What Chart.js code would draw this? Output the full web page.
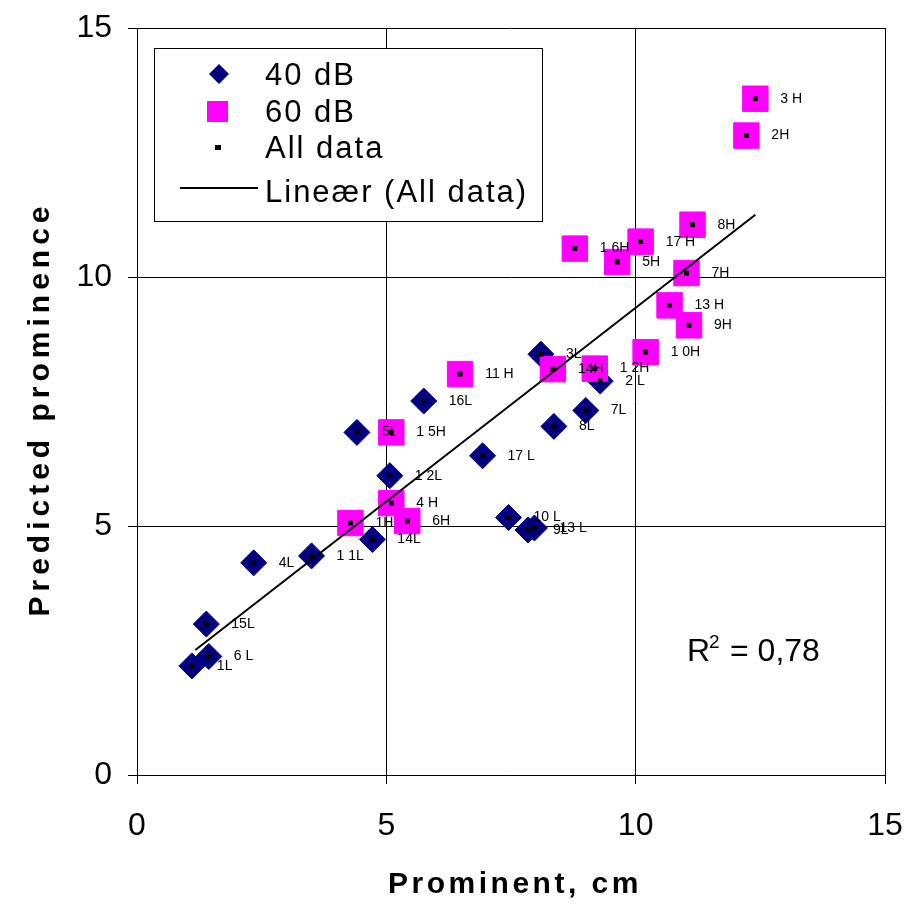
<!DOCTYPE html>
<html>
<head>
<meta charset="utf-8">
<script src="https://cdn.jsdelivr.net/npm/chart.js@4"></script>
<style>
  html, body { margin: 0; padding: 0; background: #fff; }
  canvas { display: block; }
</style>
</head>
<body>
<canvas id="chart" width="905" height="908"></canvas>
<script>
/* -------------------------------------------------------------------------- */
/*  Predicted prominence vs prominent (cm) – scatter + linear trend           */
/* -------------------------------------------------------------------------- */

/* 40 dB series ------------------------------------------------------------- */
const lowLabels = ['1L', '2 L', '3L', '4L', '5L', '6 L', '7L', '8L', '9L',
                   '10 L', '1 1L', '1 2L', '13 L', '14L', '15L', '16L', '17 L'];
const lowX = [1.10, 9.29, 8.10, 2.34, 4.41, 1.44, 9.00, 8.36, 7.84,
              7.45, 3.50, 5.07, 7.97, 4.72, 1.39, 5.75, 6.93];
const lowY = [2.19, 7.91, 8.45, 4.26, 6.88, 2.38, 7.32, 7.00, 4.92,
              5.17, 4.40, 6.01, 4.96, 4.73, 3.03, 7.51, 6.41];

/* 60 dB series ------------------------------------------------------------- */
const highLabels = ['1H', '2H', '3 H', '4 H', '5H', '6H', '7H', '8H', '9H',
                    '1 0H', '11 H', '1 2H', '13 H', '14H', '1 5H', '1 6H', '17 H'];
const highX = [4.28, 12.22, 12.40, 5.10, 9.63, 5.42, 11.02, 11.14, 11.07,
               10.20, 6.48, 9.18, 10.68, 8.34, 5.10, 8.78, 10.10];
const highY = [5.06, 12.84, 13.58, 5.46, 10.30, 5.10, 10.08, 11.05, 9.03,
               8.49, 8.05, 8.16, 9.43, 8.15, 6.88, 10.57, 10.71];

/* linear trend (All data), end points --------------------------------------- */
const trendX = [1.17, 12.40];
const trendY = [2.51, 11.25];

/* axes ---------------------------------------------------------------------- */
const axisMin  = 0;
const axisMax  = 15;
const axisStep = 5;
const xTitle   = 'Prominent, cm';
const yTitle   = 'Predicted prominence';
const r2Text   = '= 0,78';

/* helpers ------------------------------------------------------------------- */
const FONT = 'Arial, "Liberation Sans", sans-serif';
const NAVY = '#000080';
const MAGENTA = '#ff00ff';
const toPoints = (xs, ys) => xs.map((x, i) => ({ x, y: ys[i] }));

const lowPts  = toPoints(lowX, lowY);
const highPts = toPoints(highX, highY);
const allPts  = [...lowPts, ...highPts];

/* ========================================================================== */
/* plugin: point labels                                                       */
/* ========================================================================== */
const pointLabels = {
  id: 'pointLabels',
  afterDatasetsDraw(chart) {
    const ctx = chart.ctx;
    ctx.save();
    ctx.font = `14px ${FONT}`;
    ctx.fillStyle = '#000';
    ctx.textAlign = 'left';
    ctx.textBaseline = 'middle';
    chart.data.datasets.forEach((ds, i) => {
      if (!ds.pointLabels) return;
      chart.getDatasetMeta(i).data.forEach((el, j) => {
        ctx.fillText(ds.pointLabels[j], el.x + 25, el.y);
      });
    });
    ctx.restore();
  }
};

/* ========================================================================== */
/* plugin: legend box, R², axis titles                                        */
/* ========================================================================== */
const decorations = {
  id: 'decorations',
  afterDraw(chart) {
    const ctx = chart.ctx;
    const ds = chart.data.datasets;
    ctx.save();

    /* legend box ------------------------------------------------------------ */
    ctx.fillStyle = '#fff';
    ctx.fillRect(154, 48, 388, 173);
    ctx.strokeStyle = '#000';
    ctx.lineWidth = 1;
    ctx.strokeRect(154.5, 48.5, 388, 173);

    // diamond
    ctx.fillStyle = NAVY;
    ctx.beginPath();
    ctx.moveTo(219, 64); ctx.lineTo(229, 74); ctx.lineTo(219, 84); ctx.lineTo(209, 74);
    ctx.closePath(); ctx.fill();
    // square
    ctx.fillStyle = MAGENTA;
    ctx.fillRect(207, 101, 21, 21);
    // small dot
    ctx.fillStyle = '#000';
    ctx.fillRect(215, 145, 6, 5);
    // line
    ctx.beginPath();
    ctx.moveTo(180, 188); ctx.lineTo(258, 188);
    ctx.lineWidth = 2; ctx.strokeStyle = '#000'; ctx.stroke();

    ctx.fillStyle = '#000';
    ctx.font = `31px ${FONT}`;
    ctx.letterSpacing = '2px';
    ctx.textAlign = 'left';
    ctx.textBaseline = 'alphabetic';
    const rows = [ds[3].label, ds[2].label, ds[1].label, ds[0].label];
    const baselines = [85, 122, 158, 202];
    rows.forEach((t, i) => ctx.fillText(t, 265, baselines[i]));

    /* R² -------------------------------------------------------------------- */
    ctx.letterSpacing = '0px';
    ctx.font = `32px ${FONT}`;
    ctx.fillText('R', 687, 661);
    ctx.font = `19px ${FONT}`;
    ctx.fillText('2', 709, 648);
    ctx.font = `32px ${FONT}`;
    ctx.fillText(r2Text, 730, 661);

    /* axis titles ----------------------------------------------------------- */
    ctx.font = `bold 30px ${FONT}`;
    ctx.textAlign = 'center';
    ctx.letterSpacing = '3.5px';
    ctx.fillText(xTitle, 515, 893);

    ctx.translate(49, 411);
    ctx.rotate(-Math.PI / 2);
    ctx.letterSpacing = '5px';
    ctx.fillText(yTitle, 2, 0);

    ctx.restore();
  }
};

/* ========================================================================== */
/* chart                                                                      */
/* ========================================================================== */
const axis = (fit, pad) => ({
  type: 'linear',
  min: axisMin,
  max: axisMax,
  afterFit: s => {
    fit(s);
    // no overhang for edge tick labels, layout padding decides the plot box
    s.paddingLeft = s.paddingRight = s.paddingTop = s.paddingBottom = 0;
  },
  ticks: {
    stepSize: axisStep,
    color: '#000',
    padding: pad,
    font: { family: FONT, size: 32 }
  },
  grid: {
    color: '#000',
    lineWidth: 1,
    drawTicks: true,
    tickLength: 9,
    tickColor: '#000'
  },
  border: { display: true, color: '#000', width: 1 }
});

new Chart(document.getElementById('chart'), {
  type: 'scatter',
  data: {
    datasets: [
      {
        label: 'Lineær (All data)',
        data: toPoints(trendX, trendY),
        showLine: true,
        borderColor: '#000',
        borderWidth: 2,
        pointRadius: 0,
        fill: false
      },
      {
        label: 'All data',
        data: allPts,
        pointStyle: 'rect',
        pointRadius: 3.5,
        backgroundColor: '#000',
        borderColor: '#000',
        borderWidth: 0
      },
      {
        label: '60 dB',
        data: highPts,
        pointLabels: highLabels,
        pointStyle: 'rect',
        pointRadius: 18,
        backgroundColor: MAGENTA,
        borderColor: MAGENTA,
        borderWidth: 1
      },
      {
        label: '40 dB',
        data: lowPts,
        pointLabels: lowLabels,
        pointStyle: 'rectRot',
        pointRadius: 13,
        backgroundColor: NAVY,
        borderColor: NAVY,
        borderWidth: 1
      }
    ]
  },
  options: {
    responsive: false,
    animation: false,
    events: [],
    layout: { padding: { top: 28, right: 20, bottom: 0, left: 0 } },
    plugins: { legend: { display: false }, tooltip: { enabled: false } },
    scales: {
      x: axis(s => { s.height = 133; }, 23),
      y: axis(s => { s.width = 137; }, 16)
    }
  },
  plugins: [pointLabels, decorations]
});
</script>
</body>
</html>
